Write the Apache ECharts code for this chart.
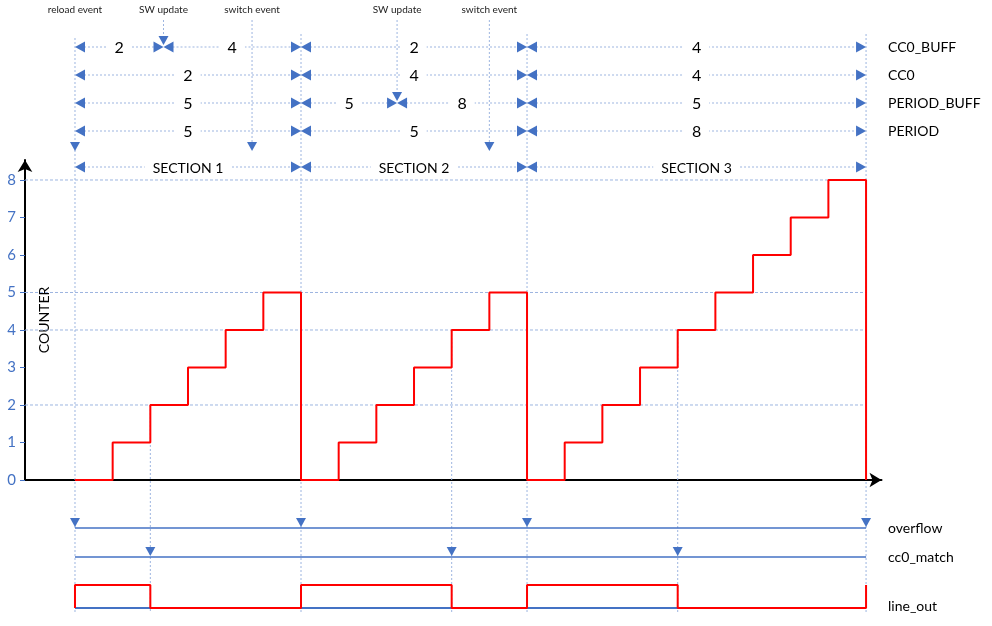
<!DOCTYPE html>
<html>
<head>
<meta charset="utf-8">
<script src="https://cdn.jsdelivr.net/npm/echarts@6/dist/echarts.min.js"></script>
<style>
html, body { margin: 0; background: #fff; }
#main { width: 992px; height: 626px; }
</style>
</head>
<body>
<div id="main"></div>
<script>
// counter steps, one value per clock tick
var counterTimes  = [0, 1, 2, 3, 4, 5, 6, 7, 8, 9, 10, 11, 12, 13, 14, 15, 16, 17, 18, 19, 20, 21];
var counterValues = [0, 1, 2, 3, 4, 5, 0, 1, 2, 3, 4, 5, 0, 1, 2, 3, 4, 5, 6, 7, 8, 0];
var yTicks = [0, 1, 2, 3, 4, 5, 6, 7, 8];
var gridLevels = [2, 4, 5, 8];

var sectionBounds = [0, 6, 12, 21];
var cc0MatchTimes = [2, 10, 16];
var cc0MatchLevels = [2, 4, 4];
var overflowTimes = [0, 6, 12, 21];
var lineOutTimes  = [0, 0, 2, 6, 10, 12, 16, 21];
var lineOutLevels = [0, 1, 0, 1, 0, 1, 0, 1];

var eventNames   = ['reload event', 'SW update', 'switch event', 'SW update', 'switch event'];
var eventTimes   = [0, 2.35, 4.7, 8.55, 11];
var eventTargets = ['trigger', 'CC0_BUFF', 'trigger', 'PERIOD_BUFF', 'trigger'];

// [from, to, value]
var cc0BuffSegs    = [[0, 2.35, '2'], [2.35, 6, '4'], [6, 12, '2'], [12, 21, '4']];
var cc0Segs        = [[0, 6, '2'], [6, 12, '4'], [12, 21, '4']];
var periodBuffSegs = [[0, 6, '5'], [6, 8.55, '5'], [8.55, 12, '8'], [12, 21, '5']];
var periodSegs     = [[0, 6, '5'], [6, 12, '5'], [12, 21, '8']];
var sectionSegs    = [[0, 6, 'SECTION 1'], [6, 12, 'SECTION 2'], [12, 21, 'SECTION 3']];

var rowNames = ['CC0_BUFF', 'CC0', 'PERIOD_BUFF', 'PERIOD', 'overflow', 'cc0_match', 'line_out'];

// layout (pixel rows of the overlay)
var ROW = {
  events: 10, stemTop: 20, CC0_BUFF: 47, CC0: 75, PERIOD_BUFF: 103, PERIOD: 131,
  trigger: 151, SECTION: 167, guideTop: 34, overflow: 528, cc0_match: 557,
  line_out: 606, guideBottom: 612
};
var T_MIN = -1.327, T_MAX = 21.41;
var BLUE = '#4472C4', GUIDE = '#9DB5E0', FONT = 'Lato';

function tri(x, y, dir) {
  if (dir === 'left') return [[x, y], [x + 10, y - 5.5], [x + 10, y + 5.5]];
  if (dir === 'right') return [[x, y], [x - 10, y - 5.5], [x - 10, y + 5.5]];
  return [[x, y], [x - 5, y - 9], [x + 5, y - 9]];
}

function dimRow(segs, key, fontSize) {
  return {
    type: 'custom', xAxisIndex: 1, yAxisIndex: 1, silent: true, clip: false, z: 4,
    encode: { x: [0, 1], y: 2 },
    data: segs.map(function (s) { return [s[0], s[1], ROW[key]]; }),
    renderItem: function (params, api) {
      var s = segs[params.dataIndex];
      var a = api.coord([s[0], ROW[key]]), b = api.coord([s[1], ROW[key]]);
      var y = a[1];
      return { type: 'group', children: [
        { type: 'line', shape: { x1: a[0] + 9, y1: y, x2: b[0] - 9, y2: y },
          style: { stroke: GUIDE, lineWidth: 1, lineDash: [2, 2] } },
        { type: 'polygon', shape: { points: tri(a[0], y, 'left') }, style: { fill: BLUE } },
        { type: 'polygon', shape: { points: tri(b[0], y, 'right') }, style: { fill: BLUE } },
        { type: 'text', x: (a[0] + b[0]) / 2, y: y + 1,
          style: { text: s[2], font: fontSize + 'px ' + FONT, fill: '#000', align: 'center',
                   verticalAlign: 'middle', backgroundColor: '#fff', padding: [2, 8] } }
      ] };
    }
  };
}

function signalRow(times, key) {
  return {
    type: 'custom', xAxisIndex: 1, yAxisIndex: 1, silent: true, clip: false, z: 4,
    encode: { x: 0, y: 1 },
    data: times.map(function (t) { return [t, ROW[key]]; }),
    renderItem: function (params, api) {
      var p = api.coord([times[params.dataIndex], ROW[key]]);
      var kids = [{ type: 'polygon', shape: { points: tri(p[0], p[1] - 1, 'down') }, style: { fill: BLUE } }];
      if (params.dataIndex === 0) {
        var a = api.coord([sectionBounds[0], ROW[key]]);
        var b = api.coord([sectionBounds[sectionBounds.length - 1], ROW[key]]);
        kids.unshift({ type: 'line', shape: { x1: a[0], y1: a[1], x2: b[0], y2: b[1] },
          style: { stroke: BLUE, lineWidth: 1.6 } });
      }
      return { type: 'group', children: kids };
    }
  };
}

var chart = echarts.init(document.getElementById('main'));

var hiddenX = function (i) {
  return { gridIndex: i, type: 'value', min: T_MIN, max: T_MAX, show: false };
};

chart.setOption({
  animation: false,
  backgroundColor: '#fff',
  grid: [
    { left: 25, right: 110.5, top: 160, bottom: 146, outerBoundsMode: 'none' },
    { left: 25, right: 110.5, top: 0, bottom: 0, outerBoundsMode: 'none' },
    { left: 25, right: 110.5, top: 585, bottom: 18, outerBoundsMode: 'none' }
  ],
  graphic: [
    { type: 'text', x: 44, y: 320, rotation: Math.PI / 2,
      style: { text: 'COUNTER', font: '14px ' + FONT, fill: '#000', align: 'center', verticalAlign: 'middle' } }
  ],
  xAxis: [
    { gridIndex: 0, type: 'value', min: T_MIN, max: T_MAX,
      axisLine: { show: true, onZero: true, symbol: ['none', 'arrow'], symbolSize: [11, 12],
                  lineStyle: { color: '#000', width: 2 } },
      axisTick: { show: false }, axisLabel: { show: false }, splitLine: { show: false } },
    hiddenX(1),
    hiddenX(2)
  ],
  yAxis: [
    { gridIndex: 0, type: 'value', min: 0, max: 8.533, interval: 1,
      axisLine: { show: true, onZero: false, symbol: ['none', 'arrow'], symbolSize: [11, 12],
                  lineStyle: { color: '#000', width: 2 } },
      axisTick: { show: true, length: 5, customValues: yTicks, lineStyle: { color: BLUE } },
      axisLabel: { customValues: yTicks, color: BLUE, fontSize: 15, fontFamily: FONT, margin: 9 },
      splitLine: { show: false } },
    { gridIndex: 1, type: 'value', min: 0, max: 626, inverse: true, show: false },
    { gridIndex: 2, type: 'value', min: 0, max: 1, show: false }
  ],
  series: [
    // horizontal guide lines at the compare / period levels
    { type: 'custom', xAxisIndex: 0, yAxisIndex: 0, silent: true, clip: false, z: 1,
      encode: { x: 0, y: 1 },
      data: gridLevels.map(function (v) { return [sectionBounds[3], v]; }),
      renderItem: function (params, api) {
        var p = api.coord([sectionBounds[3], gridLevels[params.dataIndex]]);
        return { type: 'line', shape: { x1: params.coordSys.x, y1: p[1], x2: p[0], y2: p[1] },
                 style: { stroke: GUIDE, lineWidth: 1, lineDash: [3, 2] } };
      } },
    // vertical guides at cc0 match
    { type: 'custom', xAxisIndex: 0, yAxisIndex: 0, silent: true, clip: false, z: 1,
      encode: { x: 0, y: 1 },
      data: cc0MatchTimes.map(function (t, i) { return [t, cc0MatchLevels[i]]; }),
      renderItem: function (params, api) {
        var p = api.coord([cc0MatchTimes[params.dataIndex], cc0MatchLevels[params.dataIndex]]);
        return { type: 'line', shape: { x1: p[0], y1: p[1], x2: p[0], y2: ROW.guideBottom },
                 style: { stroke: GUIDE, lineWidth: 1, lineDash: [2, 2] } };
      } },
    // vertical guides at section bounds
    { type: 'custom', xAxisIndex: 1, yAxisIndex: 1, silent: true, clip: false, z: 1,
      encode: { x: 0, y: 1 },
      data: sectionBounds.map(function (t) { return [t, ROW.guideTop]; }),
      renderItem: function (params, api) {
        var a = api.coord([sectionBounds[params.dataIndex], params.dataIndex === 0 ? ROW.guideTop + 4 : ROW.guideTop]);
        var b = api.coord([sectionBounds[params.dataIndex], ROW.guideBottom]);
        return { type: 'line', shape: { x1: a[0], y1: a[1], x2: b[0], y2: b[1] },
                 style: { stroke: GUIDE, lineWidth: 1, lineDash: [2, 2] } };
      } },
    // counter
    { type: 'line', xAxisIndex: 0, yAxisIndex: 0, step: 'end', showSymbol: false, z: 5,
      data: counterTimes.map(function (t, i) { return [t, counterValues[i]]; }),
      lineStyle: { color: '#FF0000', width: 2 }, itemStyle: { color: '#FF0000' } },
    dimRow(cc0BuffSegs, 'CC0_BUFF', 16),
    dimRow(cc0Segs, 'CC0', 16),
    dimRow(periodBuffSegs, 'PERIOD_BUFF', 16),
    dimRow(periodSegs, 'PERIOD', 16),
    dimRow(sectionSegs, 'SECTION', 14),
    // events
    { type: 'custom', xAxisIndex: 1, yAxisIndex: 1, silent: true, clip: false, z: 4,
      encode: { x: 0, y: 1 },
      data: eventTimes.map(function (t) { return [t, ROW.events]; }),
      renderItem: function (params, api) {
        var i = params.dataIndex, t = eventTimes[i];
        var x = api.coord([t, ROW.events])[0];
        var tip = eventTargets[i] === 'trigger' ? ROW.trigger : ROW[eventTargets[i]] - 2;
        var kids = [
          { type: 'text', x: x, y: ROW.events,
            style: { text: eventNames[i], font: '10px ' + FONT, fill: '#222', align: 'center', verticalAlign: 'middle' } },
          { type: 'polygon', shape: { points: tri(x, tip, 'down') }, style: { fill: BLUE } }
        ];
        if (sectionBounds.indexOf(t) < 0) {
          kids.push({ type: 'line', shape: { x1: x, y1: ROW.stemTop, x2: x, y2: tip - 9 },
                      style: { stroke: GUIDE, lineWidth: 1, lineDash: [2, 2] } });
        }
        return { type: 'group', children: kids };
      } },
    signalRow(overflowTimes, 'overflow'),
    signalRow(cc0MatchTimes, 'cc0_match'),
    // row names
    { type: 'custom', xAxisIndex: 1, yAxisIndex: 1, silent: true, clip: false, z: 4,
      encode: { x: 0, y: 1 },
      data: rowNames.map(function (n) { return [sectionBounds[3], ROW[n]]; }),
      renderItem: function (params, api) {
        var n = rowNames[params.dataIndex];
        var p = api.coord([sectionBounds[3], ROW[n]]);
        return { type: 'text', x: p[0] + 22, y: p[1],
                 style: { text: n, font: '14px ' + FONT, fill: '#000', align: 'left', verticalAlign: 'middle' } };
      } },
    // line_out
    { type: 'line', xAxisIndex: 2, yAxisIndex: 2, showSymbol: false, z: 3,
      data: [[sectionBounds[0], 0], [sectionBounds[3], 0]],
      lineStyle: { color: BLUE, width: 2 }, itemStyle: { color: BLUE } },
    { type: 'line', xAxisIndex: 2, yAxisIndex: 2, step: 'end', showSymbol: false, z: 5,
      data: lineOutTimes.map(function (t, i) { return [t, lineOutLevels[i]]; }),
      lineStyle: { color: '#FF0000', width: 2 }, itemStyle: { color: '#FF0000' } }
  ]
});
</script>
</body>
</html>
